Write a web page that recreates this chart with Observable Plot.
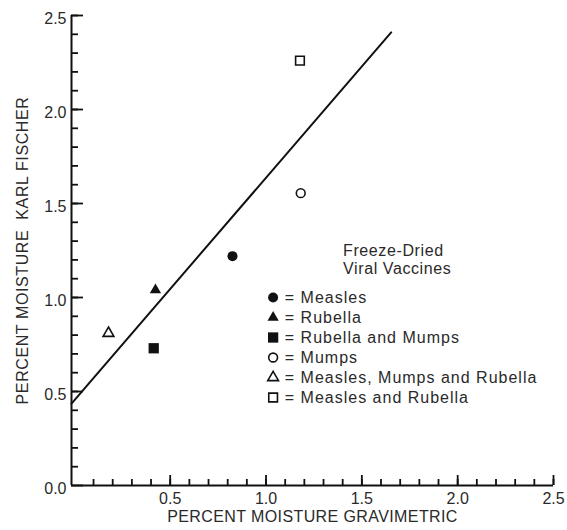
<!DOCTYPE html>
<html><head><meta charset="utf-8">
<script src="https://cdn.jsdelivr.net/npm/d3@7"></script>
<script src="https://cdn.jsdelivr.net/npm/@observablehq/plot@0.6"></script>
<style>
body{margin:0;background:#fff}
#chart svg{display:block}
text[aria-label="legend-text"]{letter-spacing:1.0px}
text[aria-label="legend-title"]{letter-spacing:0.6px}
text[aria-label="x-title"]{letter-spacing:0.4px}
text[aria-label="y-title"]{letter-spacing:0.6px}
</style>
</head><body><div id="chart"></div>
<script>
// ---- data ----
const series = ["Measles", "Rubella", "Rubella and Mumps", "Mumps", "Measles, Mumps and Rubella", "Measles and Rubella"];
const gravimetric = [0.825, 0.423, 0.414, 1.181, 0.178, 1.177];
const karlFischer = [1.22, 1.04, 0.73, 1.555, 0.81, 2.26];
const symbols = ["circle", "triangle", "square", "circle", "triangle", "square"];
const filled = [true, true, true, false, false, false];
const fitX = [-0.015, 1.653];
const fitY = [0.436, 2.41];
const xTickLabels = [0.5, 1.0, 1.5, 2.0, 2.5];
const yTickLabels = [0, 0.5, 1.0, 1.5, 2.0, 2.5];
const legendTitle = ["Freeze-Dried", "Viral Vaccines"];
const xTitle = "PERCENT MOISTURE GRAVIMETRIC";
const yTitle = "PERCENT MOISTURE  KARL FISCHER";

// ---- layout ----
const W = 567, H = 530, mL = 71, mR = 14, mT = 15, mB = 45;
const xMin = -0.015, xMax = 2.5, yMin = 0, yMax = 2.5;
const frameW = W - mL - mR, frameH = H - mT - mB;
const legendSymX = 1.037, legendTextX = 1.098, legendTop = 1.0, legendStep = 0.1064;
const legendTitleX = 1.402, legendTitleY = [1.25, 1.152];
const ink = "#111";
const textInk = "#2a2a2a";

const symR = {circle: 5, triangle: 4.2, square: 5.8};
const openR = {circle: 4.4, triangle: 4.0, square: 4.9};

const xMinor = d3.range(1, 26).map(i => i / 10);
const yMinor = d3.range(1, 26).map(i => i / 10);

const pts = series.map((s, i) => ({s, x: gravimetric[i], y: karlFischer[i], sym: symbols[i], filled: filled[i], i}));
const fit = fitX.map((x, i) => ({x, y: fitY[i]}));

const dotMarks = [];
for (const p of pts) {
  const opts = p.filled
    ? {symbol: p.sym, r: symR[p.sym], fill: ink, stroke: "none"}
    : {symbol: p.sym, r: openR[p.sym], fill: "white", stroke: ink, strokeWidth: 1.6};
  dotMarks.push(Plot.dot([p], {x: "x", y: "y", ...opts}));
  dotMarks.push(Plot.dot([p], {x: () => legendSymX, y: () => legendTop - p.i * legendStep, ...opts}));
}

// inward ticks: frame-spanning ticks inset so only `len` pixels remain next to the axis
const inTickX = (ticks, len) => Plot.tickX(ticks, {x: d => d, insetTop: frameH - len, stroke: ink, strokeWidth: 1.8});
const inTickY = (ticks, len) => Plot.tickY(ticks, {y: d => d, insetRight: frameW - len, stroke: ink, strokeWidth: 1.8});

const chart = Plot.plot({
  width: W,
  height: H,
  marginLeft: mL,
  marginRight: mR,
  marginTop: mT,
  marginBottom: mB,
  style: {fontFamily: "'Liberation Sans', Arial, sans-serif", fontSize: "16px", color: ink, background: "white"},
  x: {domain: [xMin, xMax]},
  y: {domain: [yMin, yMax]},
  marks: [
    Plot.axisX({ticks: xTickLabels, tickSize: 0, tickPadding: 7, tickFormat: d3.format(".1f"), label: null, fill: textInk}),
    Plot.axisY({ticks: yTickLabels, tickSize: 0, tickPadding: 5, dy: 3, tickFormat: d3.format(".1f"), label: null, fill: textInk}),
    Plot.ruleX([xMin], {stroke: ink, strokeWidth: 2}),
    Plot.ruleY([yMin], {stroke: ink, strokeWidth: 2}),
    inTickX(xMinor, 6),
    inTickX(xTickLabels, 10),
    inTickY(yMinor, 7),
    inTickY(yTickLabels, 12),
    Plot.line(fit, {x: "x", y: "y", stroke: ink, strokeWidth: 2}),
    ...dotMarks,
    Plot.text(pts, {x: () => legendTextX, y: p => legendTop - p.i * legendStep, text: p => "= " + p.s, textAnchor: "start", fill: textInk, ariaLabel: () => "legend-text"}),
    Plot.text(legendTitle, {x: () => legendTitleX, y: (d, i) => legendTitleY[i], text: d => d, textAnchor: "start", fill: textInk, ariaLabel: () => "legend-title"}),
    Plot.text([xTitle], {frameAnchor: "bottom", textAnchor: "middle", dy: 36, text: d => d, fill: textInk, ariaLabel: () => "x-title"}),
    Plot.text([yTitle], {frameAnchor: "left", textAnchor: "middle", dx: -49, rotate: -90, text: d => d, fill: textInk, ariaLabel: () => "y-title"})
  ]
});
document.getElementById("chart").appendChild(chart);
</script>
</body></html>
